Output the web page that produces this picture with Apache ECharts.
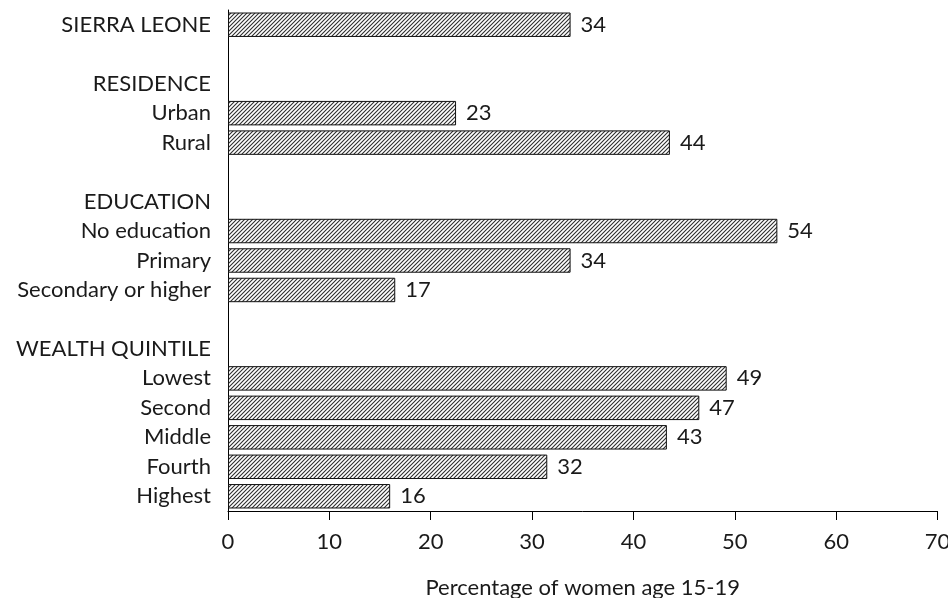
<!DOCTYPE html>
<html>
<head>
<meta charset="utf-8">
<script src="https://cdn.jsdelivr.net/npm/echarts@6/dist/echarts.min.js"></script>
<style>
html,body{margin:0;padding:0;background:#fff;}
#chart{width:948px;height:598px;}
</style>
</head>
<body>
<div id="chart"></div>
<script>
var categories = ['SIERRA LEONE', ' ', 'RESIDENCE', 'Urban', 'Rural', '  ', 'EDUCATION', 'No education', 'Primary', 'Secondary or higher', '   ', 'WEALTH QUINTILE', 'Lowest', 'Second', 'Middle', 'Fourth', 'Highest'];
var barValues = [33.8, null, null, 22.5, 43.6, null, null, 54.2, 33.8, 16.5, null, null, 49.2, 46.5, 43.3, 31.5, 16.0];
var barLabels = ['34', '', '', '23', '44', '', '', '54', '34', '17', '', '', '49', '47', '43', '32', '16'];
var xTicks = [0, 10, 20, 30, 40, 50, 60, 70];
var axisTitle = 'Percentage of women age 15-19';

var FONT = 'Lato';
var FS = 22;

function makeHatch() {
  var c = document.createElement('canvas');
  c.width = 4; c.height = 4;
  var g = c.getContext('2d');
  g.fillStyle = '#ffffff';
  g.fillRect(0, 0, 4, 4);
  g.strokeStyle = '#2e2e2e';
  g.lineWidth = 1.1;
  g.beginPath();
  g.moveTo(-1, 5); g.lineTo(5, -1);
  g.moveTo(-1, 1); g.lineTo(1, -1);
  g.moveTo(3, 5); g.lineTo(5, 3);
  g.stroke();
  return c;
}

var chart = echarts.init(document.getElementById('chart'), null, {renderer: 'canvas'});
var hatch = makeHatch();

chart.setOption({
  animation: false,
  backgroundColor: '#ffffff',
  grid: {left: 228, right: 10.5, top: 10, bottom: 87, containLabel: false, outerBoundsMode: 'none'},
  xAxis: {
    type: 'value',
    min: xTicks[0],
    max: xTicks[xTicks.length - 1],
    interval: 10,
    name: axisTitle,
    nameLocation: 'middle',
    nameGap: 66,
    nameTextStyle: {fontFamily: FONT, fontSize: FS, color: '#1a1a1a'},
    axisLine: {show: true, lineStyle: {color: '#000', width: 1}},
    axisTick: {show: true, length: 9, lineStyle: {color: '#000', width: 1}},
    axisLabel: {fontFamily: FONT, fontSize: FS, color: '#1a1a1a', margin: 20},
    splitLine: {show: false}
  },
  yAxis: {
    type: 'category',
    inverse: true,
    data: categories,
    axisLine: {show: true, lineStyle: {color: '#000', width: 1}},
    axisTick: {show: false},
    axisLabel: {fontFamily: FONT, fontSize: FS, color: '#1a1a1a', margin: 17},
    splitLine: {show: false}
  },
  series: [{
    type: 'bar',
    data: barValues,
    barCategoryGap: '17%',
    itemStyle: {
      color: {image: hatch, repeat: 'repeat'},
      borderColor: '#111',
      borderWidth: 1
    },
    label: {
      show: true,
      position: 'right',
      distance: 10,
      fontFamily: FONT,
      fontSize: FS,
      color: '#1a1a1a',
      formatter: function (p) { return barLabels[p.dataIndex]; }
    }
  }]
});
</script>
</body>
</html>
